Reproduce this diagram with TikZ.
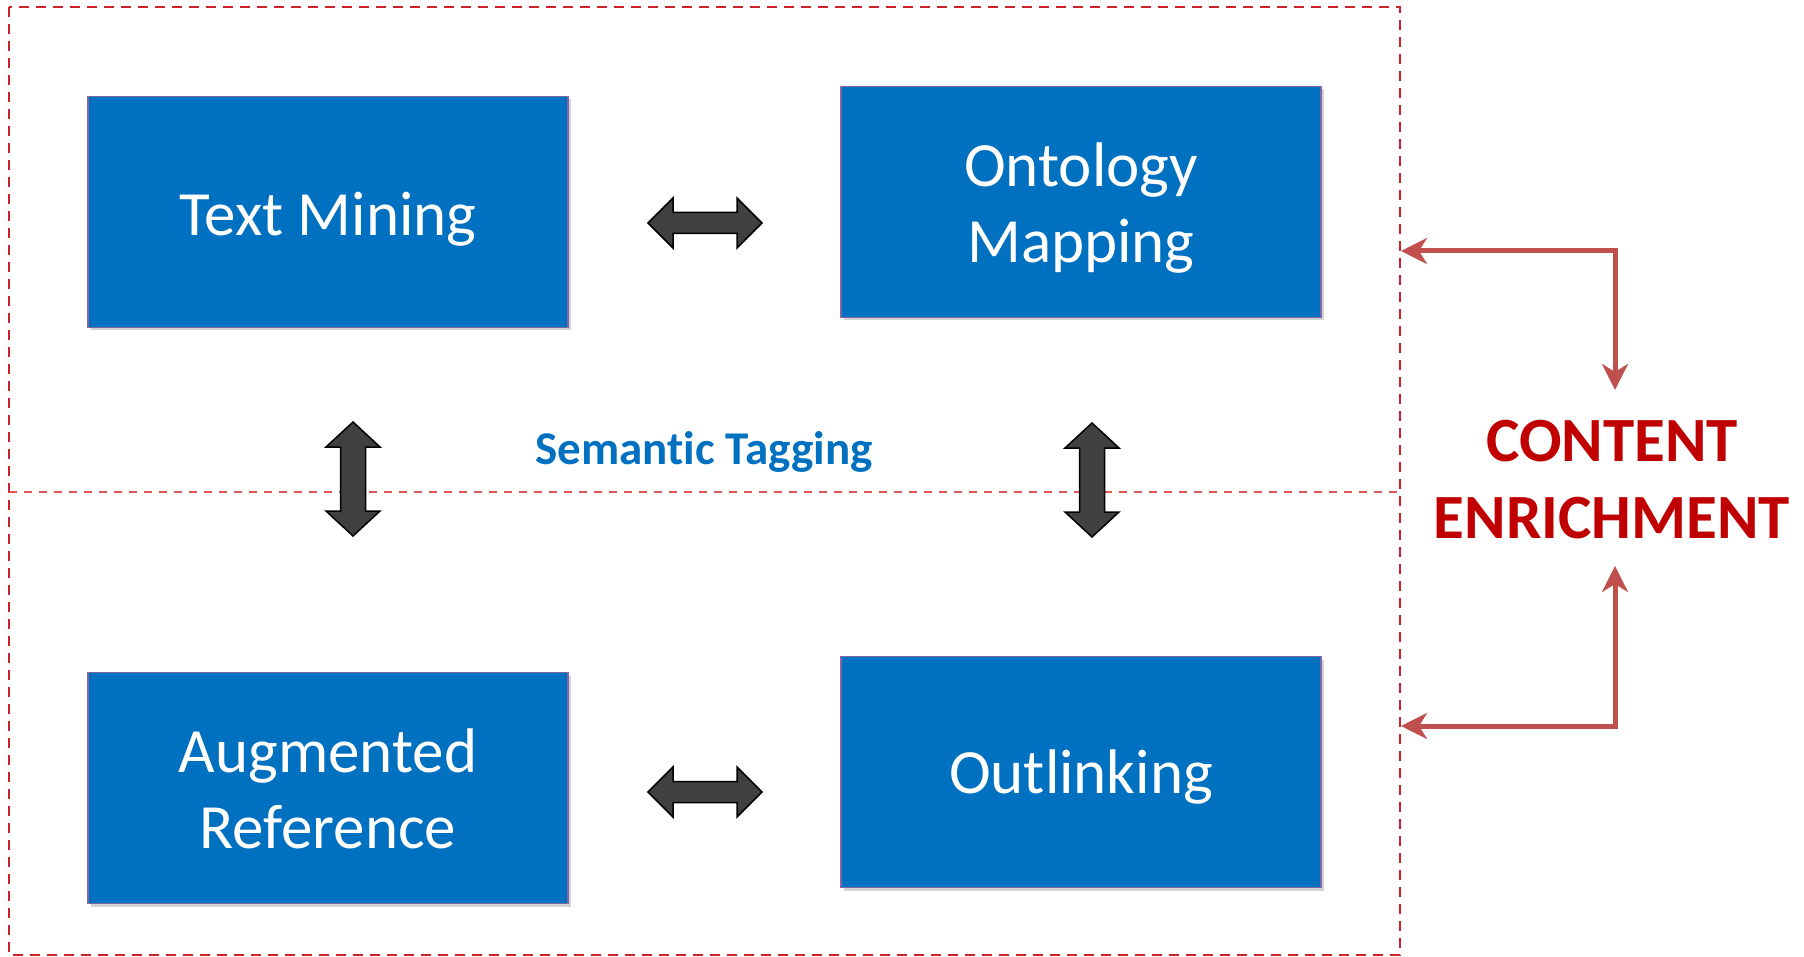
\documentclass[tikz,border=0pt]{standalone}
\usepackage{fontspec}
\setmainfont{Carlito}[Ligatures=NoCommon]
\usetikzlibrary{shadows,arrows.meta}
\definecolor{boxblue}{HTML}{0070C0}
\definecolor{boxedge}{HTML}{7E68A6}
\definecolor{darkred}{HTML}{C00000}
\definecolor{arrowred}{HTML}{C0504D}
\definecolor{arrowgray}{HTML}{404040}
\definecolor{framered}{HTML}{CC2229}
\definecolor{midred}{HTML}{E05555}
\newcommand\myhdarrow[1]{\draw[blockarrow] ([shift={(-57,0)}]#1) -- ++(25,-25) -- ++(0,14.5) -- ++(64,0) -- ++(0,-14.5) -- ++(25,25) -- ++(-25,25) -- ++(0,-14.5) -- ++(-64,0) -- ++(0,14.5) -- cycle;}
\newcommand\myvdarrow[1]{\draw[blockarrow] ([shift={(0,-57)}]#1) -- ++(27,25) -- ++(-14.5,0) -- ++(0,64) -- ++(14.5,0) -- ++(-27,25) -- ++(-27,-25) -- ++(14.5,0) -- ++(0,-64) -- ++(-14.5,0) -- cycle;}
\begin{document}
\begin{tikzpicture}[x=1pt,y=-1pt,
 box/.style={rectangle, fill=boxblue, draw=boxedge, line width=1.5pt, minimum width=480pt, minimum height=231pt, drop shadow={shadow xshift=3pt,shadow yshift=-3pt,opacity=0.35}},
 boxtxt/.style={text=white, font=\fontsize{63}{76}\selectfont, align=center},
 blockarrow/.style={fill=arrowgray, draw=black, line width=1.5pt, line join=miter},
 redarrow/.style={draw=arrowred, line width=5pt, line join=miter, {Stealth[length=26pt,width=26pt,inset=8pt]}-{Stealth[length=26pt,width=26pt,inset=8pt]}},
 frame/.style={draw=framered, line width=2pt, dash pattern=on 10pt off 7pt},
 midline/.style={draw=midred, line width=1.5pt, dash pattern=on 8pt off 7pt}]
\useasboundingbox (0,0) rectangle (1804,957);
% frame
\coordinate (fTL) at (9,7);
\coordinate (fBR) at (1400,955);
\coordinate (mL) at (9,492);
\coordinate (mR) at (1400,492);
\draw[frame] (fTL) rectangle (fBR);
\draw[midline] (mL) -- (mR);
% boxes
\node[box, label={[boxtxt, yshift=-7pt]center:Text Mining}] (tm) at (328,212) {};
\node[box, label={[boxtxt, yshift=-6pt]center:Ontology\\Mapping}] (om) at (1081,202) {};
\node[box, label={[boxtxt, yshift=-1pt]center:Augmented\\Reference}] (ar) at (328,788) {};
\node[box, label={[boxtxt, yshift=-5pt]center:Outlinking}] (ol) at (1081,772) {};
% block arrows
\coordinate (hTop) at (705,223);
\coordinate (hBot) at (705,792);
\coordinate (vL) at (353,479);
\coordinate (vR) at (1092,480);
\myhdarrow{hTop}
\myhdarrow{hBot}
\myvdarrow{vL}
\myvdarrow{vR}
% labels
\node[font=\bfseries\fontsize{47}{56}\selectfont, text=boxblue] (tag) at (704,452) {Semantic Tagging};
\node[font=\bfseries\fontsize{63}{77}\selectfont, text=darkred, align=center] (enrich) at (1612,480) {CONTENT\\ENRICHMENT};
% red arrows
\coordinate (t1) at (1401,251);
\coordinate (c1) at (1615,251);
\coordinate (d1) at (1615,390);
\coordinate (t2) at (1401,726);
\coordinate (c2) at (1615,726);
\coordinate (u2) at (1615,566);
\draw[redarrow] (t1) -- (c1) -- (d1);
\draw[redarrow] (t2) -- (c2) -- (u2);
\end{tikzpicture}
\end{document}
